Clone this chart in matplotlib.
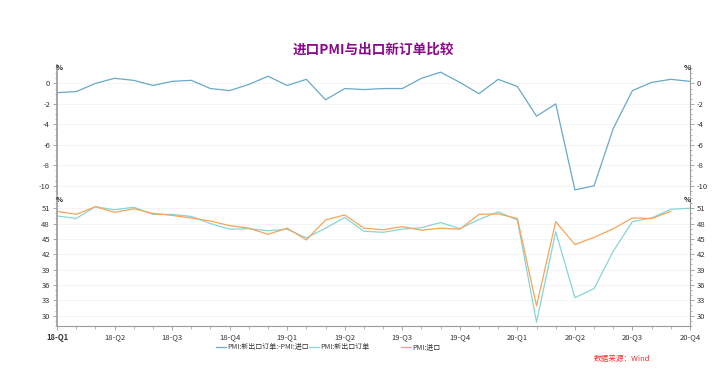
import matplotlib
matplotlib.use("Agg")
import matplotlib.pyplot as plt
from matplotlib.ticker import MultipleLocator, FixedLocator

plt.rcParams['font.family'] = ['Noto Sans CJK SC', 'DejaVu Sans']

# monthly data, 2018-01 .. 2020-10
quarter_labels = ['18-Q1', '18-Q2', '18-Q3', '18-Q4', '19-Q1', '19-Q2',
                  '19-Q3', '19-Q4', '20-Q1', '20-Q2', '20-Q3', '20-Q4']

spread = [-0.9, -0.8, 0.0, 0.5, 0.3, -0.2, 0.2, 0.3, -0.5, -0.7, -0.1, 0.7,
          -0.2, 0.4, -1.6, -0.5, -0.6, -0.5, -0.5, 0.5, 1.1, 0.1, -1.0, 0.4,
          -0.3, -3.2, -2.0, -10.4, -10.0, -4.4, -0.7, 0.1, 0.4, 0.2]

new_export = [49.5, 49.0, 51.3, 50.7, 51.2, 49.8, 49.8, 49.4, 48.0, 46.9, 47.0, 46.6,
              46.9, 45.2, 47.1, 49.2, 46.5, 46.3, 46.9, 47.2, 48.2, 47.0, 48.8, 50.3,
              48.7, 28.7, 46.4, 33.5, 35.3, 42.6, 48.4, 49.1, 50.8, 51.0]

imports = [50.4, 49.8, 51.3, 50.2, 50.9, 50.0, 49.6, 49.1, 48.5, 47.6, 47.1, 45.9,
           47.1, 44.8, 48.7, 49.7, 47.1, 46.8, 47.4, 46.7, 47.1, 46.9, 49.8, 49.9,
           49.0, 31.9, 48.4, 43.9, 45.3, 47.0, 49.1, 49.0, 50.4]

legend_labels = ['PMI:新出口订单:-PMI:进口', 'PMI:新出口订单', 'PMI:进口']

c_spread = '#6aa8c8'
c_export = '#86d6d6'
c_import = '#f7a45a'
tick_c = '#333333'
spine_c = '#9a9a9a'
grid_c = '#f2f2f2'

W, H = 717, 386
fig = plt.figure(figsize=(W / 100, H / 100), dpi=100)
fig.patch.set_facecolor('white')

x0, x1 = 57 / W, 690 / W
ax1 = fig.add_axes([x0, 1 - 195 / H, x1 - x0, (195 - 65) / H])
ax2 = fig.add_axes([x0, 1 - 326 / H, x1 - x0, (326 - 197) / H])

fig.text(373 / W, 1 - 50 / H, '进口PMI与出口新订单比较', color='#8b0a8b',
         fontsize=9.8, fontweight='bold', ha='center', va='center')


def style(ax, ylim, major, minor):
    ax.set_xlim(0, 33)
    ax.set_ylim(*ylim)
    ax.yaxis.set_major_locator(FixedLocator(major))
    ax.yaxis.set_minor_locator(MultipleLocator(minor))
    for s in ax.spines.values():
        s.set_visible(False)
    ax.spines['left'].set_visible(True)
    ax.spines['left'].set_color(spine_c)
    ax.spines['left'].set_linewidth(1.2)
    ax.spines['right'].set_visible(True)
    ax.spines['right'].set_color(spine_c)
    ax.spines['right'].set_linewidth(0.8)
    ax.tick_params(axis='y', which='both', left=True, right=True,
                   labelleft=True, labelright=True, colors=spine_c,
                   labelcolor=tick_c, labelsize=5.5, pad=2)
    ax.tick_params(axis='y', which='major', length=3, width=0.6)
    ax.tick_params(axis='y', which='minor', length=1.5, width=0.5)
    ax.grid(axis='y', which='major', color=grid_c, linewidth=0.6)
    ax.set_axisbelow(True)
    ax.text(0.004, 1.0, '%', transform=ax.transAxes, fontsize=5, fontweight='bold',
            color=tick_c, ha='center', va='top', family='DejaVu Sans')
    ax.text(0.996, 1.0, '%', transform=ax.transAxes, fontsize=5, fontweight='bold',
            color=tick_c, ha='center', va='top', family='DejaVu Sans')


style(ax1, (-10.9, 1.8), [0, -2, -4, -6, -8, -10], 0.5)
style(ax2, (27.97, 53.2), [30, 33, 36, 39, 42, 45, 48, 51], 1)

ax1.tick_params(axis='x', which='both', bottom=False, labelbottom=False)
ax1.set_yticklabels(['0', '-2', '-4', '-6', '-8', '-10'])

ax2.spines['bottom'].set_visible(True)
ax2.spines['bottom'].set_color(spine_c)
ax2.spines['bottom'].set_linewidth(0.8)
ax2.xaxis.set_major_locator(FixedLocator(range(0, 34, 3)))
ax2.xaxis.set_minor_locator(MultipleLocator(1))
ax2.set_xticklabels(quarter_labels)
ax2.tick_params(axis='x', which='both', colors=spine_c, labelcolor=tick_c,
                labelsize=5.5, pad=2)
ax2.tick_params(axis='x', which='major', length=3, width=0.6)
ax2.tick_params(axis='x', which='minor', length=2, width=0.5)
ax2.get_xticklabels()[0].set_fontweight('bold')

months = list(range(34))
l1, = ax1.plot(months, spread, color=c_spread, linewidth=0.9)
l2, = ax2.plot(months, new_export, color=c_export, linewidth=0.9)
l3, = ax2.plot(months[:len(imports)], imports, color=c_import, linewidth=0.9)

# legend items sit in fixed-width slots
for line, label, lx in zip([l1, l2, l3], legend_labels, [216, 309, 401]):
    fig.legend([line], [label], loc='center left',
               bbox_to_anchor=(lx / W, 1 - 347 / H), frameon=False,
               fontsize=5, handlelength=1.4, handletextpad=0.2,
               borderaxespad=0, borderpad=0, labelcolor=tick_c)

fig.text(650 / W, 1 - 359 / H, '数据来源：Wind', color='#e8322e', fontsize=5.5,
         style='italic', ha='right', va='center')

fig.savefig('out.png', dpi=100, facecolor='white')
